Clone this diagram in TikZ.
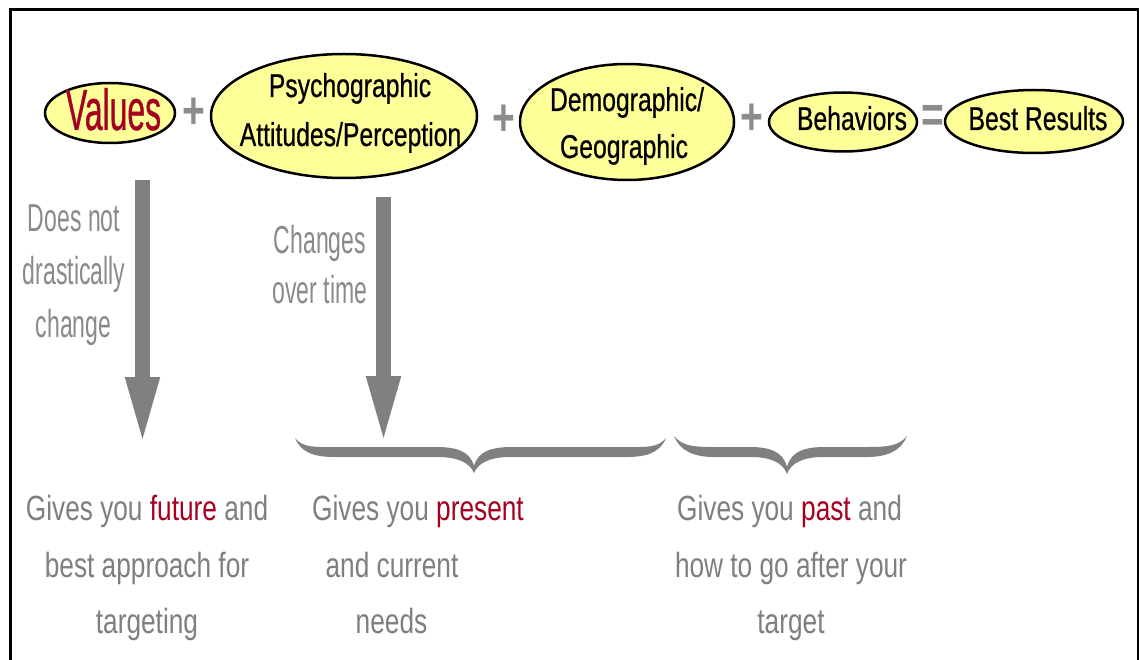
\documentclass[tikz,border=0pt]{standalone}
\usepackage{fontspec}
\setmainfont{Liberation Sans}
\newfontfamily\valuesfont[FakeStretch=0.55,FakeBold=0.6]{Liberation Sans}
\newfontfamily\ovalfont[FakeStretch=0.75,FakeBold=0.6]{Liberation Sans}
\newfontfamily\opfont[FakeStretch=0.75]{Liberation Sans}
\newfontfamily\sidefont[FakeStretch=0.59]{Liberation Sans}
\newfontfamily\notefont[FakeStretch=0.75]{Liberation Sans}
\usetikzlibrary{shapes.geometric,arrows.meta}

\definecolor{ovalfill}{HTML}{FFFF99}
\definecolor{deepred}{HTML}{A50021}
\definecolor{opgray}{HTML}{8C8C8C}
\definecolor{arrowgray}{HTML}{808080}
\definecolor{notegray}{HTML}{7F7F7F}
\definecolor{sidegray}{HTML}{8A8A8A}

% filled curly brace: #1 left x, #2 point x, #3 right x, #4 end y, #5 point y
\newcommand{\bracepath}[5]{%
  \fill[arrowgray]
    (#1,#4) .. controls ({#1+8},{#4+10}) and ({#1+20},447) .. ({#1+40},447)
    -- ({#2-38},447) .. controls ({#2-18},447) and ({#2-4},451) .. (#2,{#5-7})
    .. controls ({#2+4},451) and ({#2+18},447) .. ({#2+38},447)
    -- ({#3-40},447) .. controls ({#3-20},447) and ({#3-8},{#4+10}) .. (#3,#4)
    .. controls ({#3-6},{#4+15}) and ({#3-20},457) .. ({#3-40},457)
    -- ({#2+36},457) .. controls ({#2+16},457) and ({#2+4},463) .. (#2,#5)
    .. controls ({#2-4},463) and ({#2-16},457) .. ({#2-36},457)
    -- ({#1+40},457) .. controls ({#1+20},457) and ({#1+6},{#4+15}) .. (#1,#4)
    -- cycle;%
}

\tikzset{
  oval/.style={ellipse, draw=black, line width=2.5pt, fill=ovalfill, inner sep=0pt},
  ovaltext/.style={anchor=base, inner sep=0pt, text=black,
    font=\ovalfont\fontsize{33}{33}\selectfont},
  valuestext/.style={anchor=base, inner sep=0pt, text=deepred,
    font=\valuesfont\fontsize{58}{58}\selectfont},
  optext/.style={inner sep=0pt, text=opgray,
    font=\opfont\bfseries\fontsize{52}{52}\selectfont},
  sidetext/.style={anchor=base, inner sep=0pt, text=sidegray,
    font=\sidefont\fontsize{39}{39}\selectfont},
  notetext/.style={anchor=base, inner sep=0pt, text=notegray,
    font=\notefont\fontsize{35}{35}\selectfont},
  bigarrow/.style={arrowgray, line width=15pt, -{Triangle[length=71pt,width=30pt]}}
}

\begin{document}
\begin{tikzpicture}[x=1pt,y=-1pt]
  \useasboundingbox (0,0) rectangle (1139,660);
  \fill[white] (0,0) rectangle (1139,660);

  % open frame
  \draw[line width=2.5pt, black] (10.5,662) -- (10.5,9.5) -- (1138,9.5) -- (1138,662);

  % equation of ovals
  \node[oval, minimum width=130pt, minimum height=60pt] (values) at (110,113) {};
  \node[valuestext] (valuesT) at (113.5,130) {Values};

  \node[optext] (plusA) at (194,113) {+};

  \node[oval, minimum width=266pt, minimum height=124pt] (psycho) at (344,116) {};
  \node[ovaltext] (psychoT1) at (350,97) {Psychographic};
  \node[ovaltext] (psychoT2) at (350.5,146) {Attitudes/Perception};

  \node[optext] (plusB) at (504,120) {+};

  \node[oval, minimum width=214pt, minimum height=116pt] (demo) at (627,122) {};
  \node[ovaltext] (demoT1) at (627,111) {Demographic/};
  \node[ovaltext] (demoT2) at (624,158) {Geographic};

  \node[optext] (plusC) at (752,119) {+};

  \node[oval, minimum width=148pt, minimum height=59pt] (behav) at (843,122) {};
  \node[ovaltext] (behavT) at (852,130) {Behaviors};

  \node[optext] (equal) at (933,119) {=};

  \node[oval, minimum width=178pt, minimum height=63pt] (best) at (1034,121.5) {};
  \node[ovaltext] (bestT) at (1038,130) {Best Results};

  % downward arrows
  \coordinate (valuesArrowTop) at (142.5,180);
  \coordinate (valuesArrowTip) at (142.5,448);
  \draw[bigarrow] (valuesArrowTop) -- (valuesArrowTip);

  \coordinate (psychoArrowTop) at (383.5,197);
  \coordinate (psychoArrowTip) at (383.5,447);
  \draw[bigarrow] (psychoArrowTop) -- (psychoArrowTip);

  % side notes
  \node[sidetext] (sideA1) at (74,232) {Does not};
  \node[sidetext] (sideA2) at (74,284.5) {drastically};
  \node[sidetext] (sideA3) at (73.5,337) {change};
  \node[sidetext] (sideB1) at (320,253) {Changes};
  \node[sidetext] (sideB2) at (320,303) {over time};

  % braces
  \bracepath{295}{474}{666}{438}{473}
  \bracepath{674}{787}{907}{436}{474}

  % bottom notes
  \node[notetext] (noteA1) at (147,520) {Gives you \textcolor{deepred}{future} and};
  \node[notetext] (noteA2) at (147,577) {best approach for};
  \node[notetext] (noteA3) at (147,633) {targeting};

  \node[notetext] (noteB1) at (418,520) {Gives you \textcolor{deepred}{present}};
  \node[notetext] (noteB2) at (392,577) {and current};
  \node[notetext] (noteB3) at (391.5,633) {needs};

  \node[notetext] (noteC1) at (789.5,520) {Gives you \textcolor{deepred}{past} and};
  \node[notetext] (noteC2) at (791,577) {how to go after your};
  \node[notetext] (noteC3) at (791,633) {target};
\end{tikzpicture}
\end{document}
